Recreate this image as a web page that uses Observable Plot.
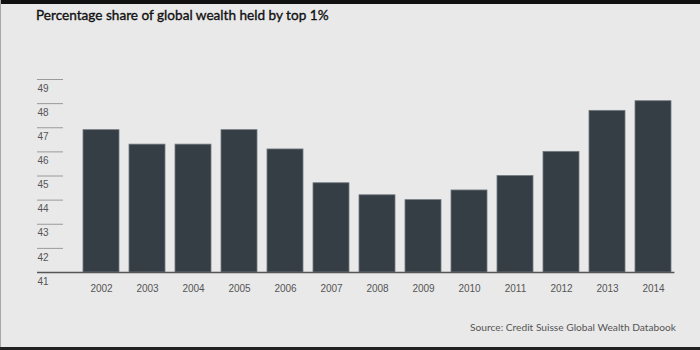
<!DOCTYPE html>
<html>
<head>
<meta charset="utf-8">
<script src="https://cdn.jsdelivr.net/npm/d3@7"></script>
<script src="https://cdn.jsdelivr.net/npm/@observablehq/plot@0.6"></script>
<style>
  html, body { margin: 0; padding: 0; background: #e9e9e9; }
  #wrap { position: relative; width: 700px; height: 350px; background: #e9e9e9; overflow: hidden; }
  #topbar { position: absolute; left: 0; top: 0; width: 700px; height: 4px; background: #111; }
  #botbar { position: absolute; left: 0; top: 347px; width: 700px; height: 3px; background: #222; }
  #leftline { position: absolute; left: 0; top: 0; width: 1px; height: 350px; background: #a8a8a8; }
  #title { position: absolute; left: 36px; top: 8px; font-family: Lato, "Open Sans", sans-serif; font-size: 13.6px; line-height: 14px; color: #111; font-weight: 400; -webkit-text-stroke: 0.35px #111; white-space: nowrap; }
  #chart { position: absolute; left: 0; top: 30px; }
  #source { position: absolute; right: 24px; top: 321px; font-family: Lato, "Open Sans", sans-serif; font-size: 10.2px; line-height: 12px; color: #555; white-space: nowrap; }
</style>
</head>
<body>
<div id="wrap">
  <div id="topbar"></div>
  <div id="leftline"></div>
  <div id="title">Percentage share of global wealth held by top 1%</div>
  <div id="chart"></div>
  <div id="source">Source: Credit Suisse Global Wealth Databook</div>
  <div id="botbar"></div>
</div>
<script>
const years = ["2002","2003","2004","2005","2006","2007","2008","2009","2010","2011","2012","2013","2014"];
const shares = [46.9, 46.3, 46.3, 46.9, 46.1, 44.7, 44.2, 44.0, 44.4, 45.0, 46.0, 47.7, 48.1];
const yTicks = [41, 42, 43, 44, 45, 46, 47, 48, 49];
const yBase = 41;
const yTop = 49;

const data = years.map((y, i) => ({year: y, share: shares[i]}));

const chart = Plot.plot({
  width: 700,
  height: 290,
  marginTop: 49,
  marginBottom: 48,
  marginLeft: 63,
  marginRight: 15,
  style: {background: "transparent", fontFamily: "'Liberation Sans', Arial, sans-serif", fontSize: "10px"},
  x: {domain: years, padding: 0.227, insetLeft: 5.7, label: null},
  y: {domain: [yBase, yTop], label: null},
  marks: [
    Plot.axisY({ticks: yTicks.slice(1), tickSize: 26, tickFormat: () => "", stroke: "#9a9a9a", label: null}),
    Plot.text(yTicks, {y: d => d, text: d => String(d), frameAnchor: "left", dx: -26, dy: 9, textAnchor: "start", fill: "#555"}),
    Plot.axisX({tickSize: 0, tickPadding: 12, fill: "#555", label: null}),
    Plot.barY(data, {x: "year", y1: () => yBase, y2: "share", fill: "#353d45", stroke: "#737a81", strokeWidth: 0.8}),
    Plot.ruleY([yBase], {stroke: "#555", strokeWidth: 1.5, insetLeft: -26, insetRight: 10.6})
  ]
});
document.getElementById("chart").appendChild(chart);
</script>
</body>
</html>
